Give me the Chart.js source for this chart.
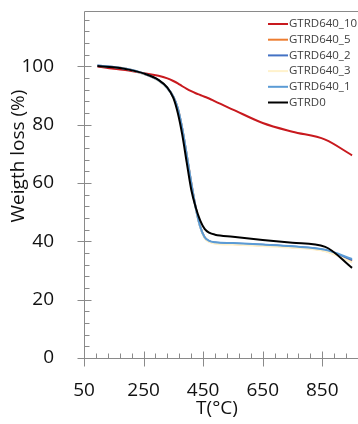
<!DOCTYPE html>
<html>
<head>
<meta charset="utf-8">
<script src="https://cdn.jsdelivr.net/npm/chart.js@4"></script>
<style>
  html, body { margin: 0; padding: 0; background: #fff; }
  canvas { display: block; }
</style>
</head>
<body>
<canvas id="tgaChart" width="358" height="424"></canvas>
<script>
// temperature (°C) and weight (%)
const temps = [95, 150, 200, 250, 300, 330, 350, 365, 380, 395, 410, 425, 440, 455, 470, 490, 550, 650, 750, 860, 950];

const gtrd640_10 = [100, 99.2, 98.6, 97.7, 96.8, 95.9, 95.0, 94.2, 93.2, 92.3, 91.5, 90.8, 90.2, 89.6, 89.0, 88.0, 85.2, 80.6, 77.6, 74.9, 69.5];
const gtrd640_5 = [100.2, 99.8, 99.0, 97.5, 95.2, 92.6, 89.6, 85.6, 78.6, 69.6, 60.2, 51.7, 45.2, 41.4, 40.0, 39.4, 39.1, 38.6, 38.0, 36.8, 33.2];
const gtrd640_2 = [100.3, 99.8, 99.0, 97.5, 95.2, 92.5, 89.5, 85.5, 78.5, 69.5, 60.0, 51.5, 45.0, 41.3, 40.1, 39.6, 39.3, 38.8, 38.2, 37.0, 33.6];
const gtrd640_3 = [100.2, 99.8, 99.0, 97.5, 95.1, 92.4, 89.4, 85.3, 78.3, 69.3, 59.8, 51.3, 44.9, 41.1, 39.8, 39.2, 38.9, 38.4, 37.8, 36.6, 32.8];
const gtrd640_1 = [100.3, 99.8, 99.0, 97.6, 95.3, 92.6, 89.6, 85.6, 78.6, 69.6, 60.1, 51.6, 45.1, 41.4, 40.2, 39.7, 39.4, 38.9, 38.3, 37.1, 34.0];
const gtrd0 = [100.1, 99.7, 98.9, 97.6, 95.4, 92.7, 89.2, 84.0, 76.5, 67.0, 57.8, 51.7, 47.2, 44.3, 43.0, 42.3, 41.6, 40.5, 39.5, 38.1, 30.9];

const seriesNames = ["GTRD640_10", "GTRD640_5", "GTRD640_2", "GTRD640_3", "GTRD640_1", "GTRD0"];
const seriesValues = [gtrd640_10, gtrd640_5, gtrd640_2, gtrd640_3, gtrd640_1, gtrd0];

const xTicks = [50, 250, 450, 650, 850];
const yTicks = [0, 20, 40, 60, 80, 100];
const xMinorStep = 40;
const yMinorStep = 4;

const colors = ["#c8191e", "#ed7d31", "#4472c4", "#fff2cc", "#5b9bd5", "#000000"];
const FONT = "'Open Sans', 'DejaVu Sans', sans-serif";
const AXIS_COLOR = "#8a8a8a";

// axis lines, ticks, titles and the legend
const decorPlugin = {
  id: "decor",
  afterDraw(chart) {
    const ctx = chart.ctx;
    const area = chart.chartArea;
    const xs = chart.scales.x;
    const ys = chart.scales.y;
    const left = Math.round(area.left) + 0.5;
    const bottom = Math.round(area.bottom) + 0.5;
    const top = Math.round(area.top) + 0.5;

    ctx.save();
    ctx.strokeStyle = AXIS_COLOR;
    ctx.lineWidth = 1;
    ctx.beginPath();
    ctx.moveTo(left, top);
    ctx.lineTo(left, bottom);
    ctx.lineTo(area.right, bottom);
    ctx.moveTo(left, top);
    ctx.lineTo(area.right, top);

    // x ticks
    for (let v = xs.min; v <= xs.max; v += xMinorStep) {
      const px = Math.round(xs.getPixelForValue(v)) + 0.5;
      if (xTicks.includes(v)) {
        ctx.moveTo(px, bottom - 7);
        ctx.lineTo(px, bottom + 8);
      } else {
        ctx.moveTo(px, bottom - 5);
        ctx.lineTo(px, bottom);
      }
    }
    // y ticks
    for (let v = 0; v < ys.max; v += yMinorStep) {
      const py = Math.round(ys.getPixelForValue(v)) + 0.5;
      if (yTicks.includes(v)) {
        ctx.moveTo(left - 7, py);
        ctx.lineTo(left + 7, py);
      } else {
        ctx.moveTo(left, py);
        ctx.lineTo(left + 5, py);
      }
    }
    ctx.stroke();

    // axis titles
    ctx.fillStyle = "#111";
    ctx.font = "19px " + FONT;
    ctx.textAlign = "center";
    ctx.textBaseline = "middle";
    ctx.fillText("T(°C)", 217, 409);
    ctx.save();
    ctx.translate(19, 156);
    ctx.rotate(-Math.PI / 2);
    ctx.fillText("Weigth loss (%)", 0, 0);
    ctx.restore();

    // legend
    ctx.font = "11.5px " + FONT;
    ctx.textAlign = "left";
    chart.data.datasets.forEach((ds, i) => {
      const y = 24 + i * 15.7;
      ctx.strokeStyle = ds.borderColor;
      ctx.lineWidth = 2;
      ctx.beginPath();
      ctx.moveTo(268, y);
      ctx.lineTo(288, y);
      ctx.stroke();
      ctx.fillStyle = "#404040";
      ctx.fillText(ds.label, 289, y);
    });
    ctx.restore();
  },
};

new Chart(document.getElementById("tgaChart"), {
  type: "line",
  data: {
    datasets: seriesNames.map((name, i) => ({
      label: name,
      data: temps.map((t, j) => ({ x: t, y: seriesValues[i][j] })),
      borderColor: colors[i],
      backgroundColor: colors[i],
      borderWidth: 2,
      pointRadius: 0,
      cubicInterpolationMode: "monotone",
      order: seriesNames.length - 1 - i,
    })),
  },
  options: {
    responsive: false,
    animation: false,
    layout: { padding: { top: 11, right: 0, left: 0, bottom: 0 } },
    plugins: {
      legend: { display: false },
      tooltip: { enabled: false },
    },
    scales: {
      x: {
        type: "linear",
        min: 50,
        max: 970,
        grid: { display: false },
        border: { display: false },
        afterBuildTicks: (scale) => {
          scale.ticks = xTicks.map((v) => ({ value: v }));
        },
        afterFit: (scale) => {
          scale.height = 66;
          scale.paddingLeft = 0;
          scale.paddingRight = 0;
        },
        ticks: {
          color: "#111",
          padding: 13,
          maxRotation: 0,
          autoSkip: false,
          font: { family: FONT, size: 19 },
        },
      },
      y: {
        type: "linear",
        min: 0,
        max: 119,
        grid: { display: false },
        border: { display: false },
        afterBuildTicks: (scale) => {
          scale.ticks = yTicks.map((v) => ({ value: v }));
        },
        afterFit: (scale) => {
          scale.width = 84;
          scale.paddingTop = 0;
          scale.paddingBottom = 0;
        },
        ticks: {
          color: "#111",
          padding: 22,
          font: { family: FONT, size: 19 },
        },
      },
    },
  },
  plugins: [decorPlugin],
});
</script>
</body>
</html>
